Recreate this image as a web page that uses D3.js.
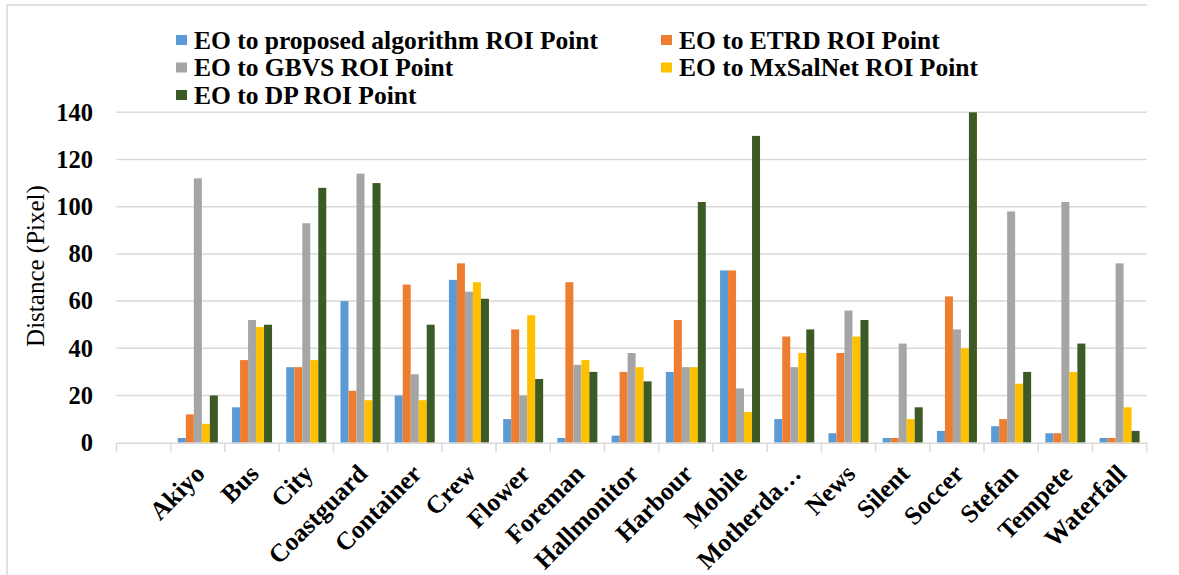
<!DOCTYPE html>
<html>
<head>
<meta charset="utf-8">
<script src="https://cdn.jsdelivr.net/npm/d3@7"></script>
<style>
  html, body { margin: 0; padding: 0; background: #fff; }
  svg { display: block; }
  text { font-family: "Liberation Serif", "Times New Roman", serif; fill: #000; }
</style>
</head>
<body>
<svg id="chart" width="1179" height="575"></svg>
<script>
// Video sequences (the first slot is an empty category)
const categories = ["", "Akiyo", "Bus", "City", "Coastguard", "Container", "Crew", "Flower",
  "Foreman", "Hallmonitor", "Harbour", "Mobile", "Motherda…", "News", "Silent",
  "Soccer", "Stefan", "Tempete", "Waterfall"];

const seriesNames = [
  "EO to proposed algorithm ROI Point",
  "EO to ETRD ROI Point",
  "EO to GBVS ROI Point",
  "EO to MxSalNet ROI Point",
  "EO to DP ROI Point"
];

// Distance (pixel) per sequence, one array per method
const proposed = [null, 2, 15, 32, 60, 20, 69, 10, 2, 3, 30, 73, 10, 4, 2, 5, 7, 4, 2];
const etrd     = [null, 12, 35, 32, 22, 67, 76, 48, 68, 30, 52, 73, 45, 38, 2, 62, 10, 4, 2];
const gbvs     = [null, 112, 52, 93, 114, 29, 64, 20, 33, 38, 32, 23, 32, 56, 42, 48, 98, 102, 76];
const mxsalnet = [null, 8, 49, 35, 18, 18, 68, 54, 35, 32, 32, 13, 38, 45, 10, 40, 25, 30, 15];
const dp       = [null, 20, 50, 108, 110, 50, 61, 27, 30, 26, 102, 130, 48, 52, 15, 140, 30, 42, 5];

const yTicks = [0, 20, 40, 60, 80, 100, 120, 140];
const colors = ["#5B9BD5", "#ED7D31", "#A5A5A5", "#FFC000", "#3B5A25"];

const seriesValues = [proposed, etrd, gbvs, mxsalnet, dp];

const svg = d3.select("#chart");
const gridColor = "#d9d9d9";
const serif = "'Liberation Serif','Times New Roman',serif";

// outer chart frame (top and left edges)
svg.append("line").attr("x1", 7).attr("x2", 1147).attr("y1", 5).attr("y2", 5)
  .attr("stroke", gridColor).attr("stroke-width", 1.5);
svg.append("line").attr("x1", 7).attr("x2", 7).attr("y1", 5).attr("y2", 575)
  .attr("stroke", gridColor).attr("stroke-width", 1.5);

const plot = { left: 116.5, right: 1146.7, top: 112.3, bottom: 442.7 };

const x = d3.scaleBand().domain(d3.range(categories.length))
  .range([plot.left, plot.right]).paddingInner(0).paddingOuter(0);
const xInner = d3.scaleBand().domain(d3.range(seriesNames.length))
  .range([0, x.bandwidth()]).paddingInner(0).paddingOuter(0.89);
const y = d3.scaleLinear().domain([0, 140]).range([plot.bottom, plot.top]);

// horizontal gridlines
svg.append("g").selectAll("line").data(yTicks.filter(d => d > 0)).join("line")
  .attr("x1", plot.left).attr("x2", plot.right)
  .attr("y1", d => y(d)).attr("y2", d => y(d))
  .attr("stroke", gridColor).attr("stroke-width", 1.5);

// y axis tick labels
const yAxis = d3.axisLeft(y).tickValues(yTicks).tickSize(0).tickPadding(0);
const yG = svg.append("g").attr("transform", "translate(93,0)").call(yAxis);
yG.select(".domain").remove();
yG.selectAll("text").attr("font-size", 24.5).attr("font-weight", "bold")
  .attr("font-family", serif).attr("fill", "#000");

// y axis title
svg.append("text")
  .attr("transform", "translate(35,266) rotate(-90)")
  .attr("text-anchor", "middle").attr("dominant-baseline", "central")
  .attr("font-size", 25).text("Distance (Pixel)");

// bars
const groups = svg.append("g").selectAll("g").data(seriesValues).join("g")
  .attr("fill", (d, i) => colors[i]);
groups.each(function (vals, si) {
  d3.select(this).selectAll("rect")
    .data(vals.map((v, ci) => ({ v, ci })).filter(d => d.v != null))
    .join("rect")
    .attr("x", d => x(d.ci) + xInner(si))
    .attr("width", xInner.bandwidth())
    .attr("y", d => y(d.v))
    .attr("height", d => y(0) - y(d.v));
});

// category axis
const xAxis = d3.axisBottom(x).tickSize(0).tickFormat(() => "");
const xG = svg.append("g").attr("transform", `translate(0,${plot.bottom})`).call(xAxis);
xG.select(".domain").attr("stroke", gridColor).attr("stroke-width", 1.5);
xG.selectAll(".tick").remove();
const bounds = d3.range(categories.length + 1).map(i => i === categories.length ? plot.right : x(i));
svg.append("g").selectAll("line").data(bounds).join("line")
  .attr("x1", d => d).attr("x2", d => d)
  .attr("y1", plot.bottom).attr("y2", plot.bottom + 9)
  .attr("stroke", gridColor).attr("stroke-width", 1.5);

svg.append("g").selectAll("text").data(categories.map((c, i) => ({ c, i })).filter(d => d.c))
  .join("text")
  .attr("transform", d => `translate(${x(d.i) + x.bandwidth() / 2 + 2},469) rotate(-45)`)
  .attr("text-anchor", "end").attr("dy", "0.35em")
  .attr("font-size", 25.5).attr("font-weight", "bold")
  .text(d => d.c);

// legend
const legendPos = [[176, 40], [661, 40], [176, 67.5], [661, 67.5], [176, 95]];
const leg = svg.append("g").selectAll("g").data(seriesNames).join("g")
  .attr("transform", (d, i) => `translate(${legendPos[i][0]},${legendPos[i][1]})`);
leg.append("rect").attr("x", 0).attr("y", -5).attr("width", 11).attr("height", 10)
  .attr("fill", (d, i) => colors[i]);
leg.append("text").attr("x", 18).attr("dy", "0.35em")
  .attr("font-size", 25.5).attr("font-weight", "bold").text(d => d);
</script>
</body>
</html>
